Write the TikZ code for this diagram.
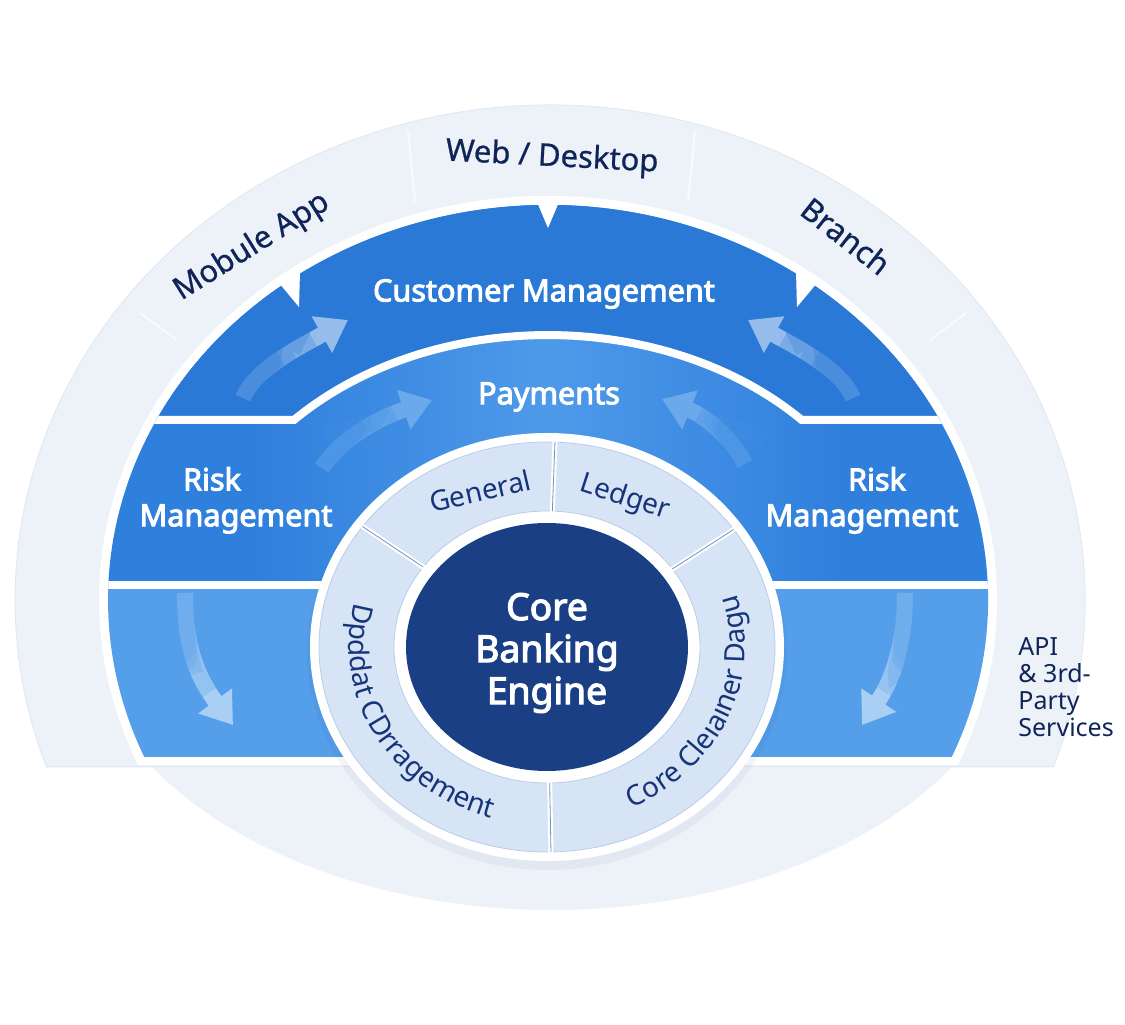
\documentclass[tikz,border=0pt]{standalone}
\usepackage{fontspec}
\setmainfont{Noto Sans}
\newfontfamily\chanfont[FakeBold=0.7]{Noto Sans}
\newfontfamily\bandfont[FakeBold=3.2]{Noto Sans}
\usetikzlibrary{arrows.meta, decorations.text, positioning}

\definecolor{pale}{HTML}{EDF2F9}
\definecolor{paleedge}{HTML}{DFE7F2}
\definecolor{custblue}{HTML}{2A79D7}
\definecolor{riskblue}{HTML}{2F7FDC}
\definecolor{payblue}{HTML}{4E9AEA}
\definecolor{lowblue}{HTML}{559FEA}
\definecolor{ringfill}{HTML}{D7E4F5}
\definecolor{ringedge}{HTML}{B9CDE8}
\definecolor{corenavy}{HTML}{1A3F84}
\definecolor{ringnavy}{HTML}{15347A}
\definecolor{labelnavy}{HTML}{0F2559}

\begin{document}
\begin{tikzpicture}[x=0.5pt, y=0.5pt,
  chanlbl/.style={text=labelnavy, font=\chanfont\fontsize{15.5}{18}\selectfont, inner sep=0pt},
  apilbl/.style={text=labelnavy, font=\fontsize{12.5}{13.5}\selectfont, align=left, inner sep=0pt},
  bandlbl/.style={text=white, font=\bandfont\fontsize{15.3}{18}\selectfont, inner sep=0pt},
  hublbl/.style={text=white, font=\bandfont\fontsize{18.6}{21}\selectfont, align=center, inner sep=0pt},
  seglbl/.style={text=ringnavy, font=\fontsize{14}{16}\selectfont, inner sep=0pt},
  ringtxt/.style={decorate, decoration={text along path, text align=center,
      text color=ringnavy, text={|\fontsize{14}{16}\selectfont|#1}}},
  sep/.style={draw=white, line width=4pt},
  flow/.style={draw=white!50!#1, line width=8pt, -{Triangle[width=20pt,length=15pt]}},
  fadeover/.style={draw=#1, opacity=.25, line width=8.6pt}]
  \useasboundingbox (0,0) rectangle (1125,1024);
  \coordinate (bandc) at (548,424);
  \coordinate (hubc) at (547,377);

  % channel band and lower bowl
  \fill[pale, draw=paleedge, line width=.4pt] (550,424) ++(-19.7:535 and 495)
    arc[start angle=-19.7, end angle=199.7, x radius=535, y radius=495] -- cycle;
  \fill[pale] (552,424) ++(212.6:475 and 310)
    arc[start angle=212.6, end angle=327.4, x radius=475, y radius=310] -- cycle;
  \foreach \p/\q in {{(408,893)}/{(415,822)}, {(695,893)}/{(688,822)},
                     {(140,711)}/{(177,684)}, {(966,711)}/{(930,684)}}
    \draw[white, line width=1.2pt, opacity=.6] \p -- \q;

  % white halo round the blue bands
  \fill[white] (bandc) ++(-24.1:449 and 404)
    arc[start angle=-24.1, end angle=204.1, x radius=449, y radius=404] -- cycle;

  % blue bands
  \begin{scope}
    \clip (bandc) ++(-23.4:440 and 395)
      arc[start angle=-23.4, end angle=203.4, x radius=440, y radius=395] -- cycle;
    \fill[lowblue] (0,0) rectangle (1125,439);
    \fill[riskblue] (0,439) rectangle (1125,1024);
    \shade[left color=riskblue, right color=riskblue, middle color=payblue] (250,439) rectangle (846,700);
    \fill[custblue] (0,604) -- (294,604)
      arc[start angle=137.2, end angle=42.8, x radius=346, y radius=265]
      -- (1125,604) -- (1125,1024) -- (0,1024) -- cycle;
    \draw[sep] (0,604) -- (294,604)
      arc[start angle=137.2, end angle=42.8, x radius=346, y radius=265] -- (1125,604);
    \draw[sep] (0,439) -- (1125,439);
  \end{scope}

  % notches
  \fill[white] (537,822) -- (559,822) -- (548,796) -- cycle;
  \fill[white] (279,741) -- (300,752) -- (299,717) -- cycle;
  \fill[white] (817,741) -- (796,752) -- (797,717) -- cycle;

  % flow arrows, fading towards the tail
  \foreach \t/\ca/\cb/\h/\bg in {
      {(243,626)}/{(255,655)}/{(298,676)}/{(348,704)}/custblue,
      {(853,626)}/{(841,655)}/{(798,676)}/{(748,704)}/custblue,
      {(322,556)}/{(345,590)}/{(385,608)}/{(432,624)}/riskblue!40!payblue,
      {(745,560)}/{(728,592)}/{(700,610)}/{(662,625)}/riskblue!40!payblue,
      {(185,431)}/{(185,380)}/{(195,350)}/{(233,299)}/lowblue,
      {(905,431)}/{(905,380)}/{(893,345)}/{(862,299)}/lowblue} {
    \draw[flow=\bg] \t .. controls \ca and \cb .. \h;
    \foreach \s in {20,32,44,56}
      \draw[fadeover=\bg, shorten >=\s pt] \t .. controls \ca and \cb .. \h;
  }

  % ring and core
  \fill[ringnavy, opacity=.05] (547,371) ellipse[x radius=240, y radius=217];
  \fill[white] (hubc) ellipse[x radius=237, y radius=214];
  \filldraw[fill=ringfill, draw=ringedge, line width=.4pt] (hubc) ellipse[x radius=228, y radius=205];
  \filldraw[fill=white, draw=ringedge, line width=.4pt] (hubc) ellipse[x radius=153, y radius=136];
  \fill[corenavy] (hubc) ellipse[x radius=141, y radius=124];
  \foreach \a in {35,88,144,271} {
    \draw[white, line width=2.5pt] ([shift={(\a:150 and 133)}]hubc) -- ([shift={(\a:229 and 206)}]hubc);
    \draw[ringedge!60!ringnavy, line width=.4pt] ([shift={(\a:153 and 136)}]hubc) -- ([shift={(\a:228 and 205)}]hubc);
  }

  % labels
  \node[bandlbl] (cust) at (544,730) {Customer Management};
  \node[bandlbl] (pay) at (549,627) {Payments};
  \node[bandlbl] (riskl) at (212,545) {Risk};
  \node[bandlbl] (mgmtl) at (236,505) {Management};
  \node[bandlbl] (riskr) at (877,545) {Risk};
  \node[bandlbl] (mgmtr) at (862,505) {Management};
  \node[hublbl] (core) at (547,371) {Core\\Banking\\Engine};
  \node[seglbl, rotate=13] (gen) at (480,533) {General};
  \node[seglbl, rotate=-18] (led) at (625,526) {Ledger};
  \path[ringtxt={Dpddat CDrragement}] (hubc) ++(150:198 and 178)
    arc[start angle=150, end angle=268, x radius=198, y radius=178];
  \path[ringtxt={Core Cleıaıner Dagu}] (hubc) ++(-82:198 and 178)
    arc[start angle=-82, end angle=36, x radius=198, y radius=178];
  \node[chanlbl, rotate=-3] (web) at (552,866) {Web / Desktop};
  \node[chanlbl, rotate=32] (mob) at (252,777) {Mobule App};
  \node[chanlbl, rotate=-38] (bra) at (846,788) {Branch};
  \node[apilbl, anchor=west] (api) at (1018,337) {API\\\& 3rd-\\Party\\Services};
\end{tikzpicture}
\end{document}
